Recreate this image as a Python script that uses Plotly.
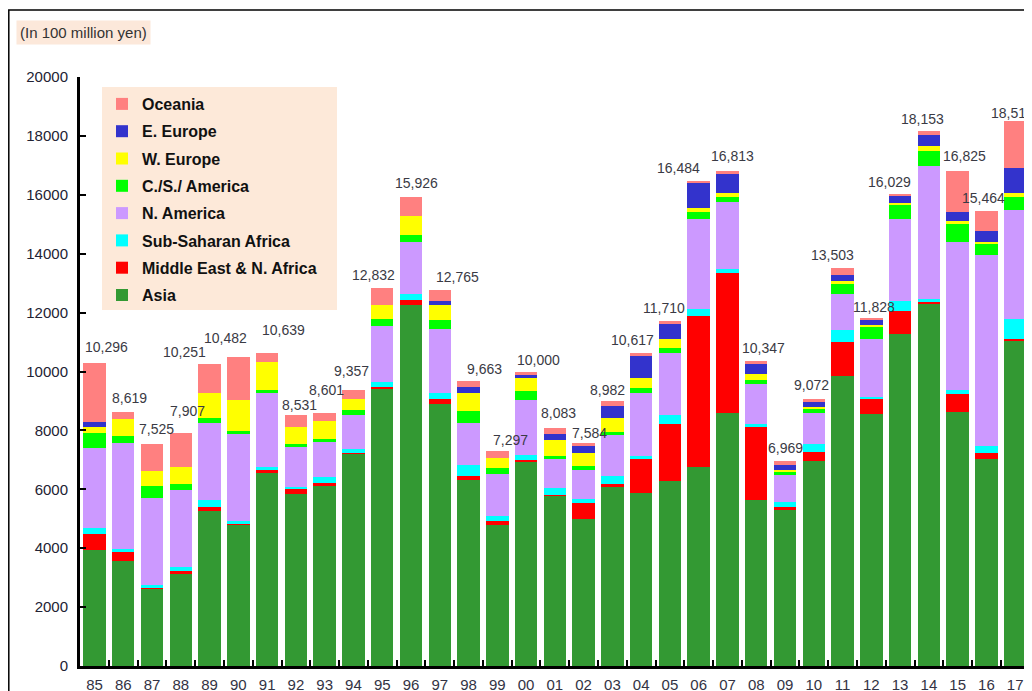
import plotly.graph_objects as go

years = ["85", "86", "87", "88", "89", "90", "91", "92", "93", "94", "95", "96",
         "97", "98", "99", "00", "01", "02", "03", "04", "05", "06", "07", "08",
         "09", "10", "11", "12", "13", "14", "15", "16", "17"]

asia = [3930, 3550, 2630, 3120, 5250, 4800, 6550, 5850, 6110, 7200, 9420, 12255,
        8900, 6300, 4780, 6920, 5800, 4980, 6090, 5880, 6290, 6755, 8605, 5640,
        5300, 6970, 9860, 8560, 11265, 12290, 8620, 7035, 11030]
mena = [545, 330, 35, 90, 160, 25, 100, 150, 95, 20, 60, 175,
        155, 145, 140, 85, 15, 550, 95, 1160, 1940, 5130, 4740, 2470,
        95, 290, 1145, 520, 785, 80, 625, 185, 90]
ssa = [225, 90, 80, 135, 240, 100, 110, 90, 200, 150, 155, 190,
       215, 380, 190, 175, 235, 155, 280, 105, 280, 235, 120, 115,
       170, 285, 390, 65, 350, 90, 130, 235, 650]
n_america = [2690, 3594, 2950, 2640, 2600, 2950, 2510, 1340, 1195, 1160, 1920, 1790,
             2170, 1410, 1420, 1850, 975, 970, 1410, 2110, 2110, 3045, 2280, 1350,
             935, 1040, 1240, 1950, 2770, 4515, 5010, 6505, 3725]
cs_america = [520, 240, 410, 195, 180, 90, 110, 100, 95, 155, 215, 225,
              310, 420, 180, 300, 115, 140, 55, 200, 175, 235, 175, 140,
              100, 145, 350, 420, 485, 520, 635, 355, 440]
w_europe = [190, 570, 510, 590, 850, 1065, 950, 600, 620, 380, 505, 655,
            515, 620, 355, 465, 530, 430, 505, 330, 325, 140, 140, 200,
            65, 65, 105, 65, 65, 170, 105, 90, 130]
e_europe = [170, 0, 0, 0, 0, 0, 0, 0, 0, 0, 0, 0,
            135, 205, 0, 70, 210, 235, 390, 740, 495, 890, 655, 330,
            160, 185, 185, 170, 260, 350, 285, 375, 860]
oceania = [2026, 245, 910, 1137, 971, 1452, 309, 401, 286, 292, 557, 636,
           365, 183, 232, 135, 203, 124, 157, 92, 95, 54, 98, 102,
           144, 92, 228, 78, 49, 138, 1415, 684, 1585]
totals = [10296, 8619, 7525, 7907, 10251, 10482, 10639, 8531, 8601, 9357, 12832, 15926,
          12765, 9663, 7297, 10000, 8083, 7584, 8982, 10617, 11710, 16484, 16813, 10347,
          6969, 9072, 13503, 11828, 16029, 18153, 16825, 15464, 18510]

# nudges (px) of the total labels, as placed in the original
label_dx = [12, 6, 4, 7, -25, -13, 16, 4, 2, -2, -9, 6, 18, 16, 13, 12,
            4, 6, -5, -9, -6, -20, 5, 7, 0, -2, -10, 3, -11, -6, 7, -3, -3]
label_dy = [3, 1, 2, 9, -1, 6, 10, -3, 10, 6, 0, 1, 0, -1, -2, -1,
            2, -3, -2, 0, 0, 0, 2, 0, 0, 1, 0, -2, -1, -1, 2, 0, -5]

series = [
    ("Asia", asia, "#339933"),
    ("Middle East & N. Africa", mena, "#FF0000"),
    ("Sub-Saharan Africa", ssa, "#00FFFF"),
    ("N. America", n_america, "#CC99FF"),
    ("C./S./ America", cs_america, "#00FF00"),
    ("W. Europe", w_europe, "#FFFF00"),
    ("E. Europe", e_europe, "#3333CC"),
    ("Oceania", oceania, "#FF8080"),
]

FONT = "Liberation Sans, Arial, sans-serif"

fig = go.Figure()
n = len(series)
for k, (name, vals, col) in enumerate(series):
    fig.add_trace(go.Bar(
        x=years, y=vals, name=name, legendgroup=name, legendrank=n - k,
        marker=dict(color=col, line=dict(width=0)),
    ))

for i, t in enumerate(totals):
    fig.add_annotation(
        x=i, y=t, text=f"{t:,}", showarrow=False,
        yanchor="bottom", xanchor="center",
        yshift=3 + label_dy[i], xshift=label_dx[i],
        font=dict(family=FONT, size=14, color="#3a3a44"),
    )

PW, PH = 947, 589   # plot area size in px
X0, Y0 = 80, 666    # plot area left / bottom in reference px

fig.add_annotation(
    xref="paper", yref="paper", x=(16 - X0) / PW, y=(Y0 - 20) / PH,
    xanchor="left", yanchor="top", showarrow=False,
    text="(In 100 million yen)", bgcolor="#FCE8DA", borderpad=3,
    font=dict(family=FONT, size=15, color="#333333"),
)

# outer frame
fig.add_shape(
    type="rect", xref="paper", yref="paper",
    x0=(8.8 - X0) / PW, x1=1.2, y0=-0.3, y1=(Y0 - 10) / PH,
    line=dict(color="black", width=1.5), fillcolor="rgba(0,0,0,0)", layer="below",
)
# legend panel
fig.add_shape(
    type="rect", xref="paper", yref="paper",
    x0=(102 - X0) / PW, x1=(337 - X0) / PW,
    y0=(Y0 - 310) / PH, y1=(Y0 - 87) / PH,
    line=dict(width=0), fillcolor="#FDE9D9", layer="above",
)

fig.update_layout(
    width=1024, height=683,
    margin=dict(l=72, r=5, t=69, b=25, pad=0, autoexpand=False),
    barmode="stack", bargap=0.22,
    paper_bgcolor="white", plot_bgcolor="white",
    font=dict(family=FONT, size=15, color="#222222"),
    showlegend=True,
    legend=dict(
        x=(102 - X0) / PW, y=(Y0 - 87) / PH, xanchor="left", yanchor="top",
        bgcolor="rgba(0,0,0,0)", borderwidth=0,
        traceorder="grouped", tracegroupgap=3.5,
        font=dict(family=FONT, size=16, color="#111111", weight="bold"),
        itemclick=False,
    ),
    xaxis=dict(
        type="category", range=[-0.504, 32.41], automargin=False,
        showline=True, linecolor="black", linewidth=3,
        ticks="inside", tickson="boundaries", ticklen=6, tickwidth=2, tickcolor="black",
        tickfont=dict(family=FONT, size=15, color="#334"), ticklabelstandoff=3,
        showgrid=False, zeroline=False,
    ),
    yaxis=dict(
        range=[0, 20000], dtick=2000, tickformat="d", automargin=False,
        showline=True, linecolor="black", linewidth=3,
        ticks="inside", ticklen=6, tickwidth=2, tickcolor="black",
        tickfont=dict(family=FONT, size=15, color="#222233"), ticklabelstandoff=6,
        showgrid=False, zeroline=False,
    ),
)

fig.write_html("out.html")
